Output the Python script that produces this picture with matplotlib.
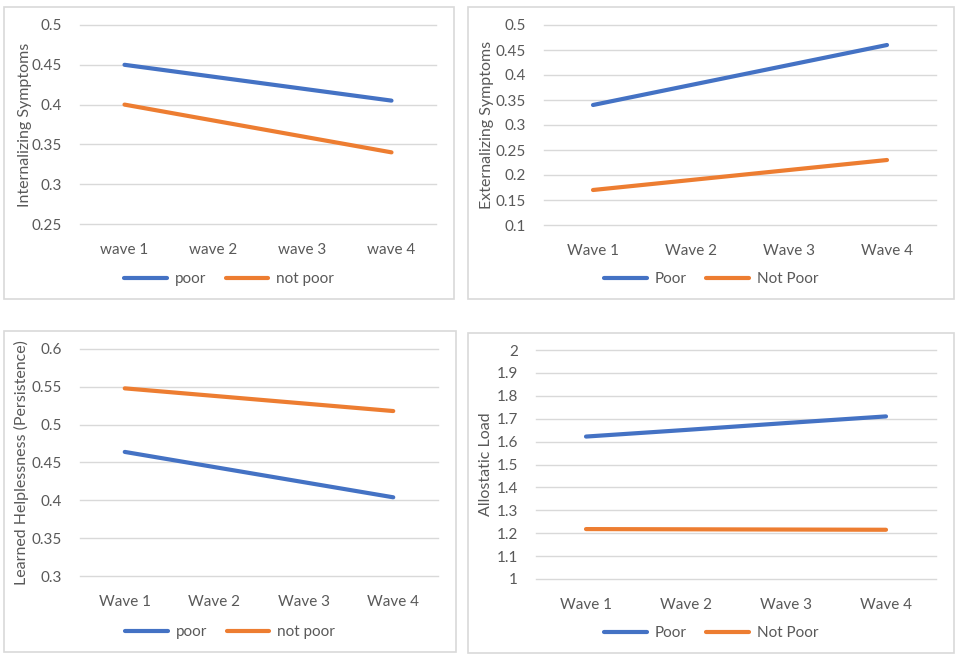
import matplotlib
matplotlib.use("Agg")
from matplotlib import pyplot as plt
from matplotlib.patches import Rectangle

# data
waves_lower = ["wave 1", "wave 2", "wave 3", "wave 4"]
waves_upper = ["Wave 1", "Wave 2", "Wave 3", "Wave 4"]

internal_poor = [0.45, 0.435, 0.42, 0.405]
internal_not_poor = [0.40, 0.38, 0.36, 0.34]

external_poor = [0.34, 0.38, 0.42, 0.46]
external_not_poor = [0.17, 0.19, 0.21, 0.23]

helpless_poor = [0.464, 0.444, 0.424, 0.404]
helpless_not_poor = [0.548, 0.538, 0.528, 0.518]

allostatic_poor = [1.622, 1.651, 1.681, 1.710]
allostatic_not_poor = [1.218, 1.217, 1.216, 1.215]

internal_ticks = [0.25, 0.3, 0.35, 0.4, 0.45, 0.5]
external_ticks = [0.1, 0.15, 0.2, 0.25, 0.3, 0.35, 0.4, 0.45, 0.5]
helpless_ticks = [0.3, 0.35, 0.4, 0.45, 0.5, 0.55, 0.6]
allostatic_ticks = [1, 1.1, 1.2, 1.3, 1.4, 1.5, 1.6, 1.7, 1.8, 1.9, 2]

BLUE = "#4472C4"
ORANGE = "#ED7D31"
GRID = "#D9D9D9"
TEXT = "#595959"
FS = 11
FS_LABEL = 11.5

W, H = 959, 654
plt.rcParams["font.family"] = ["Lato", "DejaVu Sans"]

fig = plt.figure(figsize=(W / 100, H / 100), dpi=100)


def panel(box, plot, ylabel_x, cats, poor, not_poor, ticks, ylabel, labels):
    bx0, by0, bx1, by1 = box
    fig.patches.append(Rectangle((bx0 / W, 1 - by1 / H), (bx1 - bx0) / W, (by1 - by0) / H,
                                 transform=fig.transFigure, facecolor="none",
                                 edgecolor=GRID, linewidth=1.2, zorder=-1))
    px0, py0, px1, py1 = plot
    ax = fig.add_axes([px0 / W, 1 - py1 / H, (px1 - px0) / W, (py1 - py0) / H])
    x = range(len(cats))
    for t in ticks:
        ax.axhline(t, color=GRID, linewidth=1.0, zorder=0.5, clip_on=False)
    l1, = ax.plot(x, poor, color=BLUE, linewidth=3.0, solid_capstyle="round", label=labels[0])
    l2, = ax.plot(x, not_poor, color=ORANGE, linewidth=3.0, solid_capstyle="round", label=labels[1])
    ax.set_xlim(-0.5, len(cats) - 0.5)
    ax.set_ylim(ticks[0], ticks[-1])
    ax.set_yticks(ticks)
    ax.set_yticklabels(["%g" % t for t in ticks])
    ax.set_xticks(list(x))
    ax.set_xticklabels(cats)
    for s in ax.spines.values():
        s.set_visible(False)
    ax.tick_params(length=0, colors=TEXT, labelsize=FS)
    ax.tick_params(axis="y", pad=13)
    ax.tick_params(axis="x", pad=14)
    ax.patch.set_alpha(0)
    fig.text(ylabel_x / W, 1 - (py0 + py1) / 2 / H, ylabel, rotation=90,
             ha="center", va="center", color=TEXT, fontsize=FS_LABEL)
    leg_y = by1 - 20
    fig.legend(handles=[l1, l2], loc="center", bbox_to_anchor=((bx0 + bx1) / 2 / W, 1 - leg_y / H),
               ncol=2, frameon=False, fontsize=FS, labelcolor=TEXT,
               handlelength=2.8, handletextpad=0.5, columnspacing=1.3)
    return ax


panel((4, 7, 454, 299), (80, 25, 436, 224), 25, waves_lower,
      internal_poor, internal_not_poor, internal_ticks, "Internalizing Symptoms", ["poor", "not poor"])
panel((468, 7, 954, 299), (544, 25, 936, 225), 487, waves_upper,
      external_poor, external_not_poor, external_ticks, "Externalizing Symptoms", ["Poor", "Not Poor"])
panel((4, 331, 456, 652), (80, 349, 438, 576), 21, waves_upper,
      helpless_poor, helpless_not_poor, helpless_ticks, "Learned Helplessness (Persistence)", ["poor", "not poor"])
panel((468, 333, 954, 653), (536, 350, 936, 579), 486, waves_upper,
      allostatic_poor, allostatic_not_poor, allostatic_ticks, "Allostatic Load", ["Poor", "Not Poor"])

fig.savefig("out.png", dpi=100)
